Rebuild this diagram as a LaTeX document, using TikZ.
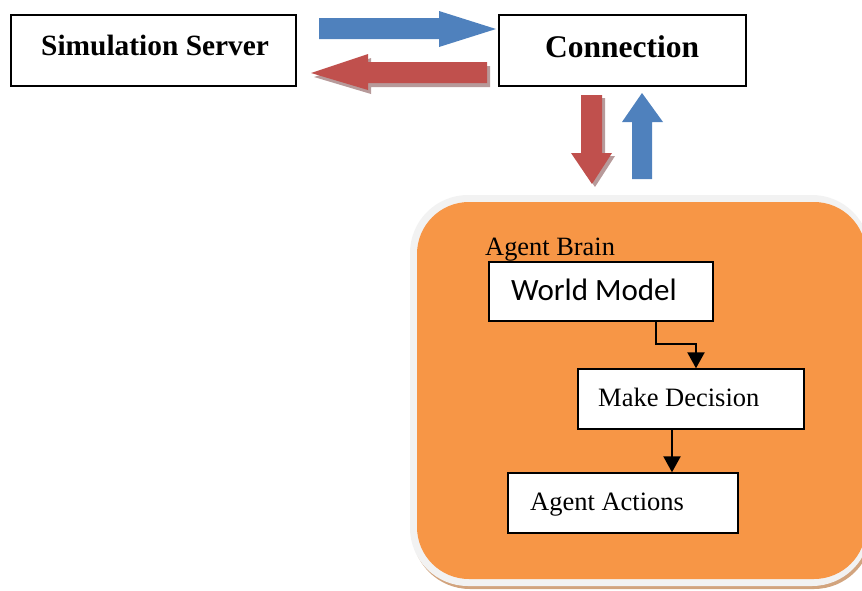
\documentclass[tikz,border=0pt]{standalone}
\usepackage{fontspec}
\usetikzlibrary{arrows.meta}
\setmainfont{Liberation Serif}
\newfontfamily\wmfont{Carlito}
\definecolor{ablue}{HTML}{4F81BD}
\definecolor{ared}{HTML}{C0504D}
\definecolor{ashadow}{HTML}{B79A9A}
\definecolor{aorange}{HTML}{F79646}
\definecolor{aborder}{HTML}{F2F2F2}
\definecolor{abrown}{HTML}{D2A47E}
\begin{document}
\begin{tikzpicture}[x=1pt,y=-1pt,
  box/.style={draw=black,line width=1.6pt,fill=white,inner sep=0pt},
  lbl/.style={anchor=base west,inner sep=0pt},
  conn/.style={line width=2.2pt,-{Triangle[length=16pt,width=17pt]}}]
\useasboundingbox (0,0) rectangle (862,590);
\begin{scope}
\clip (0,0) rectangle (862,590);
% big agent container
\fill[abrown,rounded corners=58pt] (412,199) rectangle (872,589);
\fill[aborder,rounded corners=58pt] (410,195) rectangle (870,586);
\fill[aorange,rounded corners=52pt] (417,202) rectangle (866,579);
\end{scope}
% top boxes
\node[box,minimum width=285pt,minimum height=71pt] (sim) at (153.5,50.5) {};
\node[box,minimum width=247pt,minimum height=71pt] (con) at (622.5,50.5) {};
\node[lbl,font=\bfseries\fontsize{29.4}{32}\selectfont] (simt) at (41,55) {Simulation Server};
\node[lbl,font=\bfseries\fontsize{31.5}{34}\selectfont] (cont) at (545,57) {Connection};
% block arrows
\fill[ablue] (319,18) -- (439,18) -- (439,11) -- (496,29) -- (439,47) -- (439,39) -- (319,39) -- cycle;
\fill[ashadow] (490,66) -- (371,66) -- (371,58) -- (314,77) -- (371,94) -- (371,87) -- (490,87) -- cycle;
\fill[ared] (487,62) -- (368,62) -- (368,54) -- (311,73) -- (368,90) -- (368,83) -- (487,83) -- cycle;
\fill[ashadow] (584,98) -- (605,98) -- (605,156) -- (615,156) -- (595,187) -- (574,156) -- (584,156) -- cycle;
\fill[ared] (581,95) -- (602,95) -- (602,153) -- (612,153) -- (592,184) -- (571,153) -- (581,153) -- cycle;
\fill[ablue] (632,179) -- (652,179) -- (652,122) -- (663,122) -- (642,93) -- (622,122) -- (632,122) -- cycle;
% inner
\node[lbl,font=\fontsize{26.4}{29}\selectfont] (brain) at (485,255) {Agent Brain};
\node[box,line width=1.4pt,minimum width=224pt,minimum height=59pt] (wm) at (601,291.5) {};
\node[lbl,font=\wmfont\fontsize{31}{34}\selectfont] (wmt) at (511,300) {World Model};
\node[box,line width=1.4pt,minimum width=226pt,minimum height=60pt] (md) at (691,399) {};
\node[lbl,font=\fontsize{26.5}{29}\selectfont] (mdt) at (598,406) {Make Decision};
\node[box,line width=1.4pt,minimum width=230pt,minimum height=60pt] (aa) at (623,503) {};
\node[lbl,font=\fontsize{26.5}{29}\selectfont] (aat) at (530,510) {Agent Actions};
\coordinate (bend) at (656,344);
\draw[conn] ([xshift=55pt]wm.south) -- (bend) -| ([xshift=5pt]md.north);
\draw[conn] ([xshift=-19pt]md.south) -- ([xshift=49pt]aa.north);
\end{tikzpicture}
\end{document}
